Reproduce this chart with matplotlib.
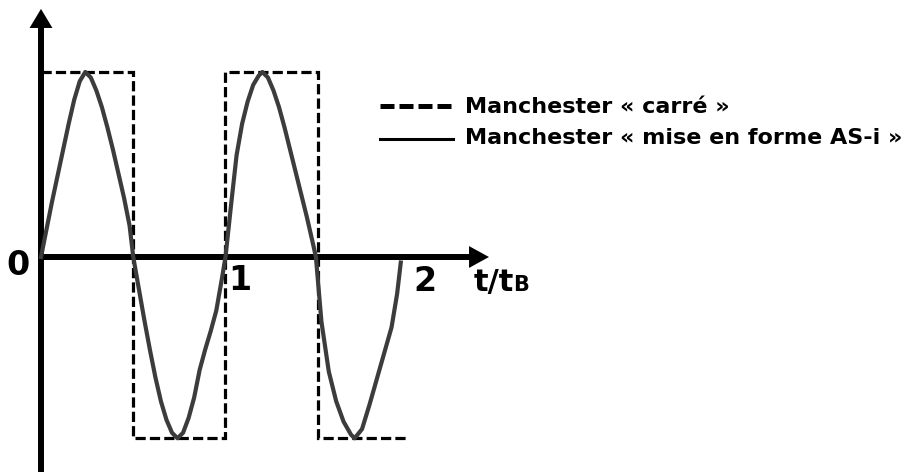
import numpy as np
import matplotlib
matplotlib.use("Agg")
import matplotlib.pyplot as plt

# Manchester "carré": level changes at each half bit
square_t = [0.0, 0.5, 0.5, 1.0, 1.0, 1.5, 1.5, 1.98]
square_v = [1.0, 1.0, -0.98, -0.98, 1.0, 1.0, -0.98, -0.98]

# Manchester "mise en forme AS-i" (sampled trace)
shaped_t = [0.00, 0.03, 0.06, 0.09, 0.12, 0.15, 0.18, 0.21, 0.24, 0.27, 0.30, 0.33,
            0.36, 0.39, 0.42, 0.45, 0.48, 0.50,
            0.53, 0.56, 0.59, 0.62, 0.65, 0.68, 0.71, 0.74, 0.77, 0.80, 0.83,
            0.86, 0.89, 0.92, 0.95, 0.98, 1.00,
            1.03, 1.06, 1.09, 1.12, 1.15, 1.18, 1.20, 1.23, 1.26, 1.29, 1.32,
            1.35, 1.38, 1.41, 1.44, 1.47, 1.49,
            1.52, 1.56, 1.60, 1.64, 1.68, 1.70, 1.74, 1.78, 1.82, 1.86, 1.90,
            1.93, 1.95]
shaped_v = [0.00, 0.15, 0.30, 0.44, 0.58, 0.72, 0.85, 0.95, 1.00, 0.97, 0.90, 0.81,
            0.70, 0.58, 0.45, 0.32, 0.17, 0.00,
            -0.17, -0.34, -0.50, -0.65, -0.78, -0.88, -0.95, -0.98, -0.95, -0.87, -0.76,
            -0.61, -0.50, -0.40, -0.29, -0.12, 0.00,
            0.28, 0.55, 0.72, 0.84, 0.93, 0.98, 1.00, 0.97, 0.90, 0.81, 0.70,
            0.58, 0.46, 0.34, 0.22, 0.09, 0.00,
            -0.35, -0.62, -0.78, -0.89, -0.96, -0.98, -0.93, -0.80, -0.66, -0.52, -0.38,
            -0.20, -0.03]

tick_labels = ["0", "1", "2"]
legend_labels = ["Manchester « carré »", "Manchester « mise en forme AS-i »"]

plt.rcParams['font.family'] = ['DejaVu Sans']

fig = plt.figure(figsize=(9.11, 4.72), dpi=100)
ax = fig.add_axes([0, 0, 1, 1])
ax.set_xlim(-41 / 184.5, 870 / 184.5)
ax.set_ylim(-215 / 185, 257 / 185)
ax.axis("off")

# axes with arrow heads
ax.plot([0, 0], [-1.3, 1.25], color="black", lw=4.3, solid_capstyle="butt")
ax.fill([-0.062, 0.062, 0.0], [1.238, 1.238, 1.341], color="black", lw=0)
ax.plot([-0.01, 2.33], [0, 0], color="black", lw=4.3, solid_capstyle="butt")
ax.fill([2.320, 2.320, 2.428], [-0.059, 0.059, 0.0], color="black", lw=0)

# signals
ax.plot(square_t, square_v, color="black", lw=2.3, ls=(0, (3.2, 1.3)),
        solid_joinstyle="miter", dash_joinstyle="miter")
ax.plot(shaped_t, shaped_v, color="#3c3c3c", lw=3.0, solid_joinstyle="round")

# axis labels
ax.text(-0.122, -0.097, tick_labels[0], fontsize=24, fontweight="bold", ha="center", va="baseline")
ax.text(1.079, -0.178, tick_labels[1], fontsize=24, fontweight="bold", ha="center", va="baseline")
ax.text(2.081, -0.184, tick_labels[2], fontsize=24, fontweight="bold", ha="center", va="baseline")
ax.text(2.347, -0.184, "t/t", fontsize=22, fontweight="bold", ha="left", va="baseline")
ax.text(2.558, -0.184, "B", fontsize=15, fontweight="bold", ha="left", va="baseline")

# legend drawn by hand
ax.plot([1.837, 2.228], [0.816, 0.816], color="black", lw=3.6, ls=(0, (2.8, 1.0)))
ax.plot([1.837, 2.233], [0.638, 0.638], color="black", lw=2.2)
ax.text(2.298, 0.778, legend_labels[0], fontsize=16, fontweight="bold", ha="left", va="baseline")
ax.text(2.298, 0.611, legend_labels[1], fontsize=16, fontweight="bold", ha="left", va="baseline")

fig.savefig("out.png", dpi=100)
